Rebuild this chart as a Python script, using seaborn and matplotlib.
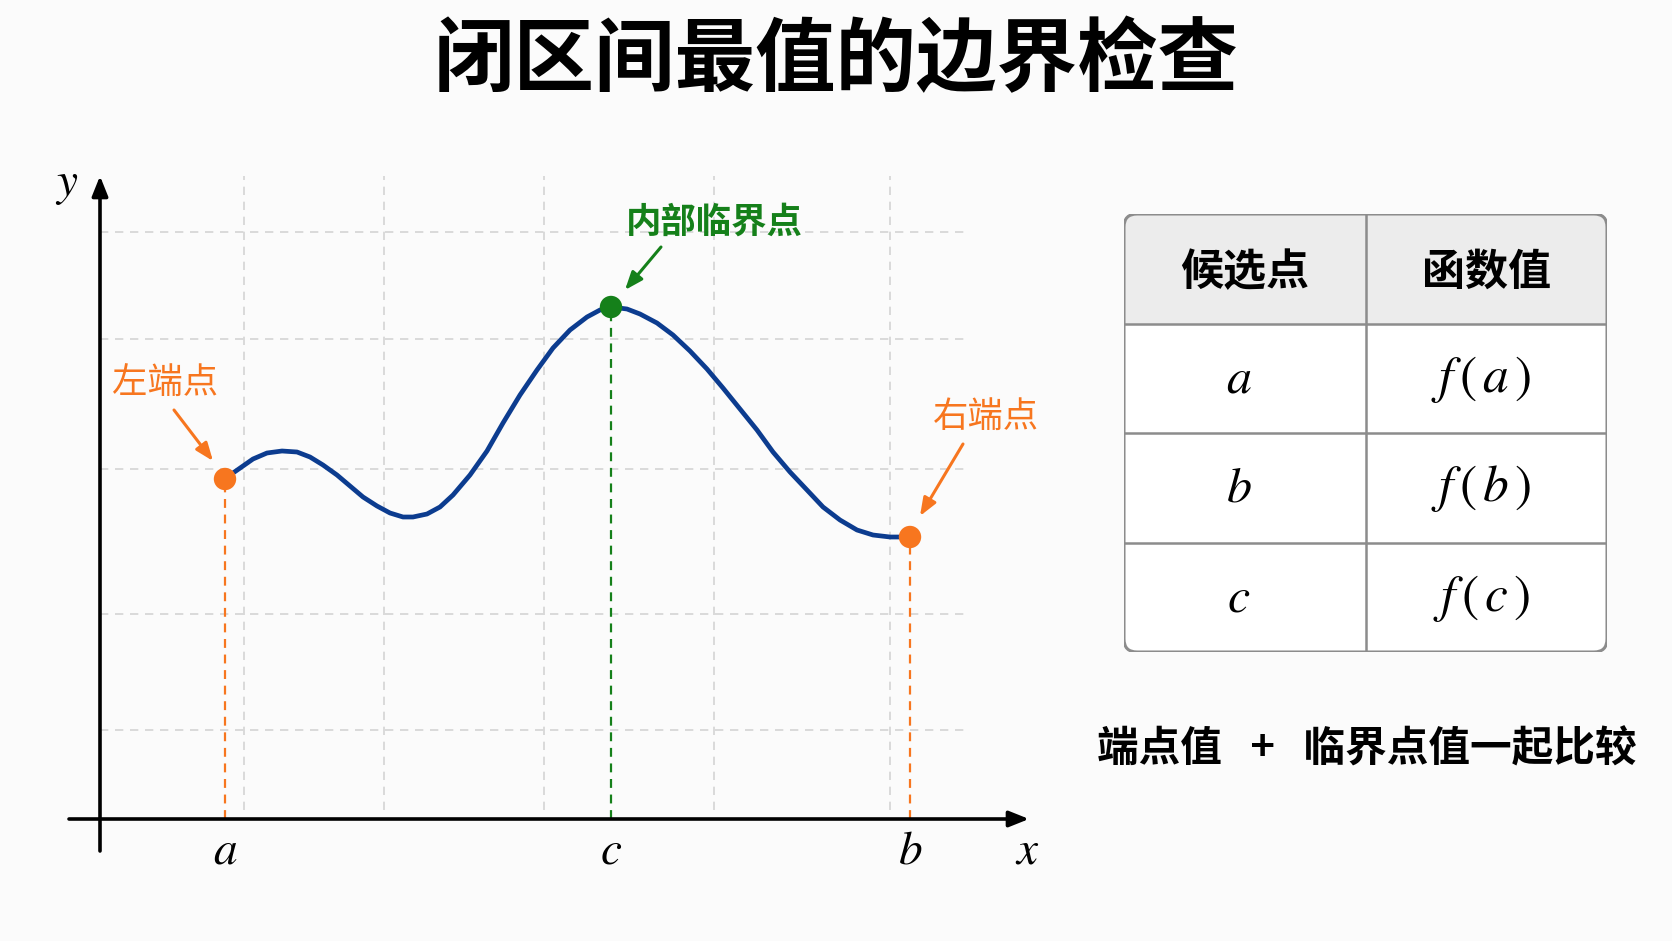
import numpy as np
import pandas as pd
import matplotlib
matplotlib.use('Agg')
import matplotlib.pyplot as plt
import seaborn as sns
from matplotlib.patches import FancyBboxPatch, Rectangle

# curve (x, y in axis units, origin at the axes cross)
curve_x = [1.25, 1.33, 1.43, 1.53, 1.67, 1.82, 1.97, 2.10, 2.23, 2.37, 2.50, 2.63, 2.77,
           2.90, 3.03, 3.13, 3.27, 3.40, 3.53, 3.70, 3.87, 4.03, 4.20, 4.37, 4.53, 4.70,
           4.87, 5.00, 5.11, 5.27, 5.40, 5.57, 5.73, 5.90, 6.07, 6.23, 6.40, 6.57, 6.73,
           6.90, 7.07, 7.23, 7.40, 7.57, 7.73, 7.90, 8.10]
curve_y = [3.40, 3.46, 3.53, 3.60, 3.66, 3.68, 3.67, 3.62, 3.54, 3.44, 3.33, 3.22, 3.13,
           3.06, 3.02, 3.02, 3.05, 3.12, 3.24, 3.44, 3.68, 3.96, 4.24, 4.49, 4.71, 4.89,
           5.02, 5.09, 5.12, 5.10, 5.05, 4.96, 4.84, 4.68, 4.50, 4.31, 4.10, 3.89, 3.67,
           3.47, 3.29, 3.12, 2.99, 2.89, 2.84, 2.82, 2.82]

point_names = ['a', 'c', 'b']
point_x = [1.25, 5.11, 8.10]
point_y = [3.40, 5.12, 2.82]
point_kind = ['端点', '临界点', '端点']

grid_x = [1.44, 2.84, 4.44, 6.14, 7.90]
grid_y = [0.89, 2.05, 3.50, 4.80, 5.87]

table_header = ['候选点', '函数值']
table_points = ['a', 'b', 'c']
table_values = ['f(a)', 'f(b)', 'f(c)']

title = '闭区间最值的边界检查'
note = '端点值   +   临界点值一起比较'

ORANGE = '#f7761f'
GREEN = '#15801a'
BLUE = '#0c3c8f'
BG = '#fbfbfb'

sns.set_theme(style='white')
plt.rcParams['font.family'] = ['Noto Sans CJK SC', 'DejaVu Sans']
plt.rcParams['mathtext.fontset'] = 'stix'
plt.rcParams['text.color'] = 'black'

fig = plt.figure(figsize=(16.72, 9.41), dpi=100, facecolor=BG)

# main plot axes, 100 px per unit
ax = fig.add_axes([0, 0, 1100 / 1672, 821 / 941])
ax.set_facecolor('none')
ax.set_xlim(-1, 10)
ax.set_ylim(-1.22, 6.99)
ax.axis('off')

for gx in grid_x:
    ax.plot([gx, gx], [0.09, 6.43], color='#d4d4d4', lw=1.2, ls=(0, (5, 4)), zorder=1)
for gy in grid_y:
    ax.plot([0, 8.68], [gy, gy], color='#d4d4d4', lw=1.2, ls=(0, (5, 4)), zorder=1)

# axes with arrows
arrow = dict(arrowstyle='-|>,head_length=1.0,head_width=0.4', lw=2.6, color='black',
             shrinkA=0, shrinkB=0)
ax.annotate('', xy=(9.29, 0), xytext=(-0.31, 0), arrowprops=arrow, zorder=3)
ax.annotate('', xy=(0, 6.43), xytext=(0, -0.32), arrowprops=arrow, zorder=3)
ax.text(-0.33, 6.36, '$y$', fontsize=34, ha='center', va='center')
ax.text(9.27, -0.31, '$x$', fontsize=34, ha='center', va='center')

df_curve = pd.DataFrame({'x': curve_x, 'y': curve_y})
sns.lineplot(data=df_curve, x='x', y='y', ax=ax, color=BLUE, lw=3.4, sort=False,
             zorder=4, solid_capstyle='round', solid_joinstyle='round')

colors = [GREEN if k == '临界点' else ORANGE for k in point_kind]
for name, px, py, col in zip(point_names, point_x, point_y, colors):
    ax.plot([px, px], [0, py], color=col, lw=1.6, ls=(0, (4, 3)), zorder=2)
    ax.text(px, -0.31, f'${name}$', fontsize=34, ha='center', va='center')

df_pts = pd.DataFrame({'x': point_x, 'y': point_y, 'kind': point_kind})
sns.scatterplot(data=df_pts, x='x', y='y', hue='kind', palette={'端点': ORANGE, '临界点': GREEN},
                s=260, edgecolor='none', legend=False, ax=ax, zorder=5)
ax.set_xlabel('')
ax.set_ylabel('')

def callout(text, xy, xytext, tpos, col, weight):
    ax.annotate('', xy=xy, xytext=xytext,
                arrowprops=dict(arrowstyle='-|>,head_length=0.9,head_width=0.35', lw=2.2,
                                color=col, shrinkA=0, shrinkB=0), zorder=6)
    ax.text(tpos[0], tpos[1], text, color=col, fontsize=25.5, ha='center', va='center',
            fontweight=weight)

callout('左端点', (point_x[0] - 0.12, point_y[0] + 0.18), (0.74, 4.09), (0.65, 4.35), ORANGE, 'normal')
callout('内部临界点', (point_x[1] + 0.14, point_y[1] + 0.17), (5.61, 5.72), (6.14, 5.97), GREEN, 'bold')
callout('右端点', (point_x[2] + 0.10, point_y[2] + 0.21), (8.63, 3.75), (8.86, 4.02), ORANGE, 'normal')

# title
fig.text(836 / 1672, 1 - 62 / 941, title, fontsize=58, fontweight='heavy', ha='center', va='center')

# table, pixel units
tw, th = 483, 438
tax = fig.add_axes([1124 / 1672, 1 - 652 / 941, tw / 1672, th / 941])
tax.set_xlim(0, tw)
tax.set_ylim(th, 0)
tax.axis('off')
nrows = len(table_points) + 1
rh = th / nrows
cw = tw / 2
rad = 13
tax.add_patch(FancyBboxPatch((0, 0), tw, th, boxstyle=f'round,pad=0,rounding_size={rad}',
                             facecolor='white', edgecolor='none', zorder=1))
tax.add_patch(FancyBboxPatch((0, 0), tw, rh, boxstyle=f'round,pad=0,rounding_size={rad}',
                             facecolor='#ececec', edgecolor='none', zorder=2))
tax.add_patch(Rectangle((0, rh / 2), tw, rh / 2, facecolor='#ececec', edgecolor='none', zorder=2))
for i in range(1, nrows):
    tax.plot([0, tw], [i * rh, i * rh], color='#8c8c8c', lw=1.8, zorder=3)
tax.plot([cw, cw], [0, th], color='#8c8c8c', lw=1.8, zorder=3)
tax.add_patch(FancyBboxPatch((0, 0), tw, th, boxstyle=f'round,pad=0,rounding_size={rad}',
                             facecolor='none', edgecolor='#8c8c8c', lw=2.2, zorder=4))
for j, h in enumerate(table_header):
    tax.text(cw * (j + 0.5), rh * 0.53, h, fontsize=31, fontweight='bold', ha='center', va='center', zorder=5)
for i, (p, v) in enumerate(zip(table_points, table_values)):
    yc = rh * (i + 1.5)
    tax.text(cw * 0.5 - 6, yc, f'${p}$', fontsize=36, ha='center', va='center', zorder=5)
    fv = v.replace('(', r'\,(\,').replace(')', r'\,)')
    tax.text(cw * 1.5 - 5, yc, f'${fv}$', fontsize=37, ha='center', va='center', zorder=5)

fig.text(1367 / 1672, 1 - 750 / 941, note, fontsize=30, fontweight='bold', ha='center', va='center')

fig.savefig('out.png', dpi=100, facecolor=BG)
